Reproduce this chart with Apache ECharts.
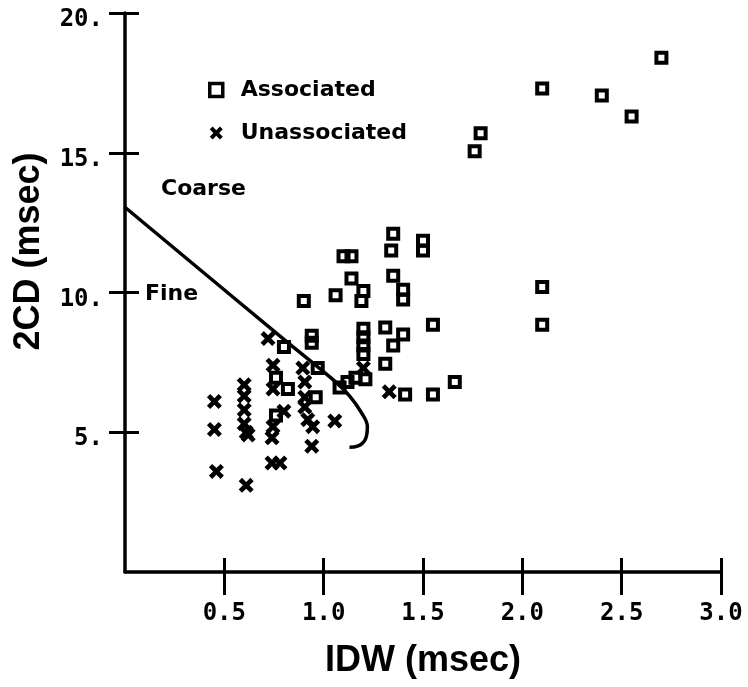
<!DOCTYPE html>
<html><head><meta charset="utf-8">
<script src="https://cdn.jsdelivr.net/npm/echarts@6/dist/echarts.min.js"></script>
<style>html,body{margin:0;padding:0;background:#fff}#c{width:748px;height:687px}</style>
</head><body><div id="c"></div>
<script>
const xTicks = [0.5, 1.0, 1.5, 2.0, 2.5, 3.0];
const yTicks = [5, 10, 15, 20];

const associatedX = [2.70, 2.10, 2.40, 2.55, 1.79, 1.76, 2.10, 2.10,
  1.35, 1.50, 1.34, 1.50, 1.10, 1.14, 1.35, 1.14, 1.40, 1.20, 1.06, 0.90, 1.40, 1.19,
  1.55, 1.31, 1.40, 1.35,
  1.20, 1.20, 1.20, 1.20,
  0.94, 0.94, 0.80, 0.97, 1.31, 0.76, 0.82, 0.96,
  1.08, 1.12, 1.16, 1.21,
  1.41, 1.55, 1.66, 0.76];
const associatedY = [18.4, 17.3, 17.05, 16.3, 15.7, 15.05, 10.2, 8.85,
  12.1, 11.85, 11.5, 11.5, 11.3, 11.3, 10.6, 10.5, 10.1, 10.05, 9.9, 9.7, 9.75, 9.7,
  8.85, 8.75, 8.5, 8.1,
  8.7, 8.4, 8.1, 7.8,
  8.45, 8.2, 8.05, 7.3, 7.45, 6.95, 6.55, 6.25,
  6.6, 6.8, 6.95, 6.9,
  6.35, 6.35, 6.8, 5.6];

const unassociatedX = [0.45, 0.45, 0.46,
  0.60, 0.60, 0.60, 0.60, 0.61, 0.62, 0.61,
  0.72, 0.745, 0.745, 0.80, 0.745, 0.74, 0.74, 0.78,
  0.895, 0.905, 0.905, 0.905, 0.92, 0.945, 1.056, 0.94,
  1.20, 1.33];
const unassociatedY = [6.1, 5.1, 3.6,
  6.7, 6.3, 5.8, 5.3, 5.0, 4.9, 3.1,
  8.35, 7.4, 6.55, 5.75, 5.2, 4.8, 3.9, 3.9,
  7.3, 6.8, 6.25, 5.9, 5.45, 5.2, 5.4, 4.5,
  7.3, 6.45];

const boundaryX = [0, 0.80, 1.06, 1.13, 1.19, 1.22, 1.21, 1.17, 1.13];
const boundaryY = [13.05, 8.32, 6.8, 6.3, 5.7, 5.2, 4.75, 4.5, 4.46];

const zip = (a, b) => a.map((v, i) => [v, b[i]]);
const xPath = 'path://M0,2.2L2.2,0L5,2.8L7.8,0L10,2.2L7.2,5L10,7.8L7.8,10L5,7.2L2.2,10L0,7.8L2.8,5Z';
const tickFont = {fontFamily: 'DejaVu Sans Mono', fontWeight: 'bold', fontSize: 24, color: '#000'};
const titleFont = {fontFamily: 'Liberation Sans', fontWeight: 'bold', fontSize: 36, color: '#000'};
const labelFont = {fontFamily: 'DejaVu Sans', fontWeight: 'bold', fontSize: 22, fill: '#000'};

const chart = echarts.init(document.getElementById('c'), null, {renderer: 'canvas'});
chart.setOption({
  backgroundColor: '#fff',
  animation: false,
  grid: {left: 125, right: 27, top: 13, bottom: 115},
  legend: {
    data: [
      {name: 'Associated', itemStyle: {color: 'rgba(255,255,255,0)', borderColor: '#000', borderWidth: 3.5}},
      {name: 'Unassociated', itemStyle: {color: '#000', borderWidth: 0}}
    ],
    orient: 'vertical', left: 203, top: 74,
    itemWidth: 13, itemHeight: 13, itemGap: 21,
    textStyle: {fontFamily: 'DejaVu Sans', fontWeight: 'bold', fontSize: 22, color: '#000', lineHeight: 22, padding: [0, 0, 0, 13]}
  },
  xAxis: [{
    type: 'value', min: 0, max: 3, position: 'bottom',
    axisLine: {show: true, onZero: false, lineStyle: {color: '#000', width: 3.5}},
    axisTick: {show: true, customValues: xTicks, length: 23, lineStyle: {color: '#000', width: 3}},
    axisLabel: Object.assign({customValues: xTicks, margin: 30, formatter: v => v.toFixed(1)}, tickFont),
    splitLine: {show: false},
    name: 'IDW (msec)', nameLocation: 'middle', nameGap: 71, nameTextStyle: titleFont
  }, {
    type: 'value', min: 0, max: 3, position: 'bottom',
    axisLine: {show: false},
    axisTick: {show: true, inside: true, customValues: xTicks, length: 14, lineStyle: {color: '#000', width: 3}},
    axisLabel: {show: false}, splitLine: {show: false}
  }],
  yAxis: [{
    type: 'value', min: 0, max: 20, position: 'left',
    axisLine: {show: true, onZero: false, lineStyle: {color: '#000', width: 3.5}},
    axisTick: {show: true, customValues: yTicks, length: 16, lineStyle: {color: '#000', width: 3}},
    axisLabel: Object.assign({customValues: yTicks, margin: 22, formatter: v => v + '.', verticalAlign: 'top', lineHeight: 14}, tickFont),
    splitLine: {show: false},
    name: '2CD (msec)', nameLocation: 'middle', nameGap: 78, nameRotate: 90,
    nameTextStyle: Object.assign({padding: [0, 0, 0, 82]}, titleFont)
  }, {
    type: 'value', min: 0, max: 20, position: 'left',
    axisLine: {show: false},
    axisTick: {show: true, inside: true, customValues: yTicks, length: 14, lineStyle: {color: '#000', width: 3}},
    axisLabel: {show: false}, splitLine: {show: false}
  }],
  series: [{
    name: 'Boundary', type: 'line', xAxisIndex: 0, yAxisIndex: 0,
    data: zip(boundaryX, boundaryY), smooth: 0.4, symbol: 'none',
    lineStyle: {color: '#000', width: 3.5, opacity: 1}, z: 2
  }, {
    name: 'Associated', type: 'scatter', xAxisIndex: 0, yAxisIndex: 0,
    data: zip(associatedX, associatedY), symbol: 'rect', symbolSize: 10,
    itemStyle: {color: 'rgba(255,255,255,0)', borderColor: '#000', borderWidth: 4, opacity: 1}, z: 3
  }, {
    name: 'Unassociated', type: 'scatter', xAxisIndex: 0, yAxisIndex: 0,
    data: zip(unassociatedX, unassociatedY), symbol: xPath, symbolSize: 15,
    itemStyle: {color: '#000', opacity: 1}, z: 3
  }],
  graphic: [
    {type: 'text', left: 161, top: 178, style: Object.assign({text: 'Coarse'}, labelFont)},
    {type: 'text', left: 145, top: 283, style: Object.assign({text: 'Fine'}, labelFont)}
  ]
});
</script></body></html>
